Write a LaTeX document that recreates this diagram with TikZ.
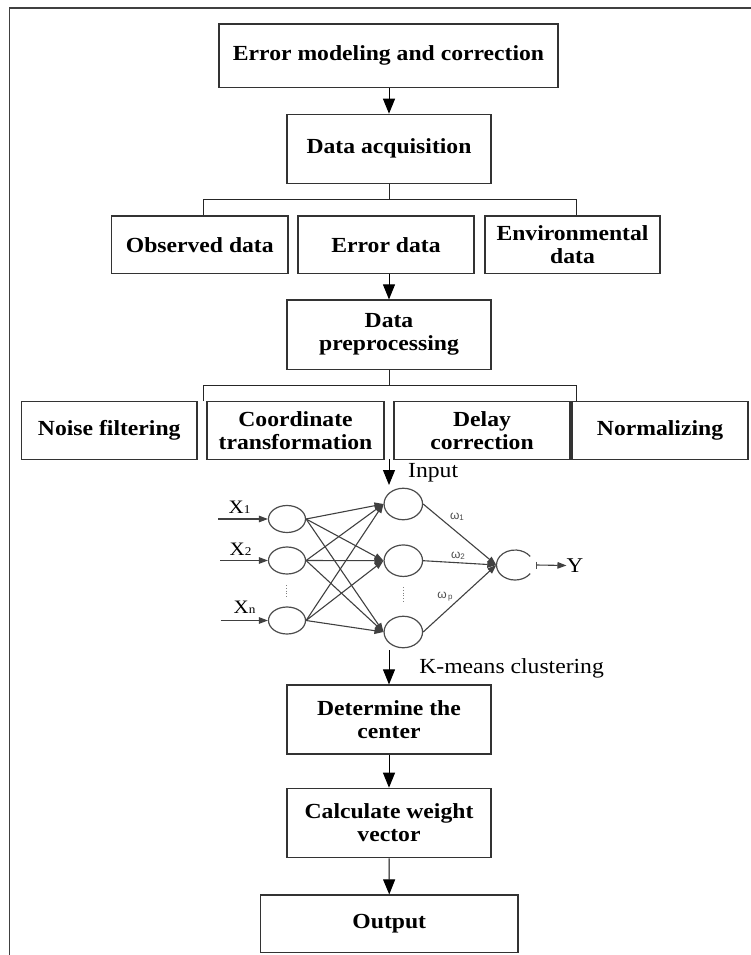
\documentclass[tikz,border=0pt]{standalone}
\usepackage{fontspec}
\setmainfont{Liberation Serif}[FakeStretch=1.1]
\newfontfamily\omegafont{Liberation Sans}
\usetikzlibrary{arrows.meta,shapes.geometric}
\newcommand\wlab[1]{{\omegafont\fontsize{12}{12}\selectfont ω\raisebox{-1.5pt}{\fontsize{8}{8}\selectfont #1}}}
\newcommand\xlab[1]{{\fontsize{19}{19}\selectfont X\fontsize{12}{12}\selectfont #1}}
\begin{document}
\begin{tikzpicture}[x=1pt,y=-1pt,
  boxnode/.style={draw=black!80, line width=1.2pt, rectangle, inner sep=0pt, align=center,
    font=\bfseries\fontsize{21.5}{23}\selectfont},
  flowarrow/.style={-{Triangle[length=15pt,width=12pt]}, line width=1pt},
  branchline/.style={line width=1pt, draw=black!85},
  neuron/.style={ellipse, draw=black!70, line width=1.2pt, inner sep=0pt},
  nnarrow/.style={-{Triangle[length=9pt,width=6.5pt]}, line width=1.1pt, draw=black!75, color=black!75},
  plain/.style={font=\fontsize{21.5}{23}\selectfont, inner sep=0pt},
  wtext/.style={text=black!70, inner sep=0pt},
  frameline/.style={line width=1.6pt, draw=black!75}
]
\useasboundingbox (0,0) rectangle (751,955);
% frame
\draw[frameline] (9.6,955) -- (9.6,8.3) -- (751,8.3);

% boxes
\node[boxnode, minimum width=339pt, minimum height=63.7pt] (emc) at (388.5,55.85) {Error modeling and correction};
\node[boxnode, minimum width=204pt, minimum height=69pt] (acq) at (389,148.8) {Data acquisition};
\node[boxnode, minimum width=176.4pt, minimum height=57.7pt] (obs) at (199.8,244.85) {Observed data};
\node[boxnode, minimum width=176pt, minimum height=57.7pt] (err) at (386,244.85) {Error data};
\node[boxnode, minimum width=175pt, minimum height=57.7pt] (env) at (572.5,244.85) {Environmental\\data};
\node[boxnode, minimum width=204pt, minimum height=69.3pt] (prep) at (389,334.65) {Data\\preprocessing};
\node[boxnode, minimum width=175.5pt, minimum height=57.6pt] (noise) at (109.25,430.5) {Noise filtering};
\node[boxnode, minimum width=177pt, minimum height=57.6pt] (coord) at (295.5,430.5) {Coordinate\\transformation};
\node[boxnode, minimum width=176pt, minimum height=57.6pt] (delay) at (482,430.5) {Delay\\correction};
\node[boxnode, minimum width=176pt, minimum height=57.6pt] (norm) at (660,430.5) {Normalizing};
\node[boxnode, minimum width=204pt, minimum height=69pt] (det) at (389,719.5) {Determine the\\center};
\node[boxnode, minimum width=204pt, minimum height=69.4pt] (calc) at (389,823) {Calculate weight\\vector};
\node[boxnode, minimum width=257.5pt, minimum height=57.7pt] (out) at (389.25,923.85) {Output};

% top flow
\draw[flowarrow] (acq.north |- emc.south) -- (acq.north);
\coordinate (b1L) at (203,199.3);
\coordinate (b1R) at (576,199.3);
\draw[branchline] (acq.south) -- (acq.south |- b1L);
\draw[branchline] (b1L |- obs.north) -- (b1L) -- (b1R) -- (b1R |- env.north);
\draw[flowarrow] (prep.north |- err.south) -- (prep.north);
\coordinate (b2L) at (203,385);
\coordinate (b2R) at (576,385);
\draw[branchline] (prep.south) -- (prep.south |- b2L);
\draw[branchline] (b2L |- coord.north) -- (b2L) -- (b2R) -- (b2R |- norm.north);

% input arrow
\coordinate (inS) at (389,459.3);
\coordinate (inE) at (389,485);
\draw[flowarrow] (inS) -- (inE);
\node[plain, anchor=west] (inputlab) at (408,472.7) {Input};

% neural net
\node[neuron, minimum width=37pt, minimum height=27pt] (i1) at (287,519) {};
\node[neuron, minimum width=37pt, minimum height=27pt] (i2) at (287,560.5) {};
\node[neuron, minimum width=37pt, minimum height=27pt] (i3) at (287,620.5) {};
\node[neuron, minimum width=38.5pt, minimum height=31.5pt] (h1) at (403.3,504) {};
\node[neuron, minimum width=38.5pt, minimum height=31.5pt] (h2) at (403.3,560.7) {};
\node[neuron, minimum width=38.5pt, minimum height=31.5pt] (h3) at (403.3,632) {};
\node[ellipse, inner sep=0pt, minimum width=37pt, minimum height=30pt] (o) at (515,565) {};
\draw[draw=black!70, line width=1.2pt] ([shift={(35:18.5pt and -15pt)}]o.center)
  arc[start angle=35, end angle=325, x radius=18.5pt, y radius=-15pt];
\draw[draw=black!70, line width=1.2pt] ([xshift=3pt,yshift=3.5pt]o.east) -- ([xshift=3pt,yshift=-3.5pt]o.east);

\foreach \a in {i1,i2,i3}{
  \foreach \b in {h1,h2,h3}{
    \draw[nnarrow] (\a.east) -- (\b.west);
  }
}
\foreach \b in {h1,h2,h3}{
  \draw[nnarrow] (\b.east) -- (o.west);
}

% inputs
\coordinate (x1s) at (218.3,519);
\coordinate (x2s) at (220,560.5);
\coordinate (x3s) at (220.7,620.5);
\draw[nnarrow] (x1s) -- (i1.west);
\draw[nnarrow] (x2s) -- (i2.west);
\draw[nnarrow] (x3s) -- (i3.west);
\node[inner sep=0pt, anchor=base] (x1l) at (239.5,513.3) {\xlab{1}};
\node[inner sep=0pt, anchor=base] (x2l) at (240.5,555.7) {\xlab{2}};
\node[inner sep=0pt, anchor=base] (x3l) at (244.5,613.3) {\xlab{n}};

% dots
\draw[black!50, line width=0.8pt, dotted] (286,585) -- (286,598);
\draw[black!50, line width=0.8pt, dotted] (403.3,587) -- (403.3,602);

% weights
\node[wtext] (w1) at (457,516.7) {\wlab{1}};
\node[wtext] (w2) at (458,556) {\wlab{2}};
\node[wtext] (wp) at (445,596.7) {\wlab{\,p}};

% output Y
\node[inner sep=0pt, font=\fontsize{21}{21}\selectfont] (Y) at (575,565.5) {Y};
\draw[nnarrow] ([xshift=3pt]o.east) -- (Y.west);

% bottom flow
\coordinate (kmS) at (389,650);
\draw[flowarrow] (kmS) -- (det.north);
\node[plain] (kmlab) at (511.6,668.3) {K-means clustering};
\draw[flowarrow] (det.south) -- (calc.north);
\draw[flowarrow] (calc.south) -- (out.north);
\end{tikzpicture}
\end{document}
